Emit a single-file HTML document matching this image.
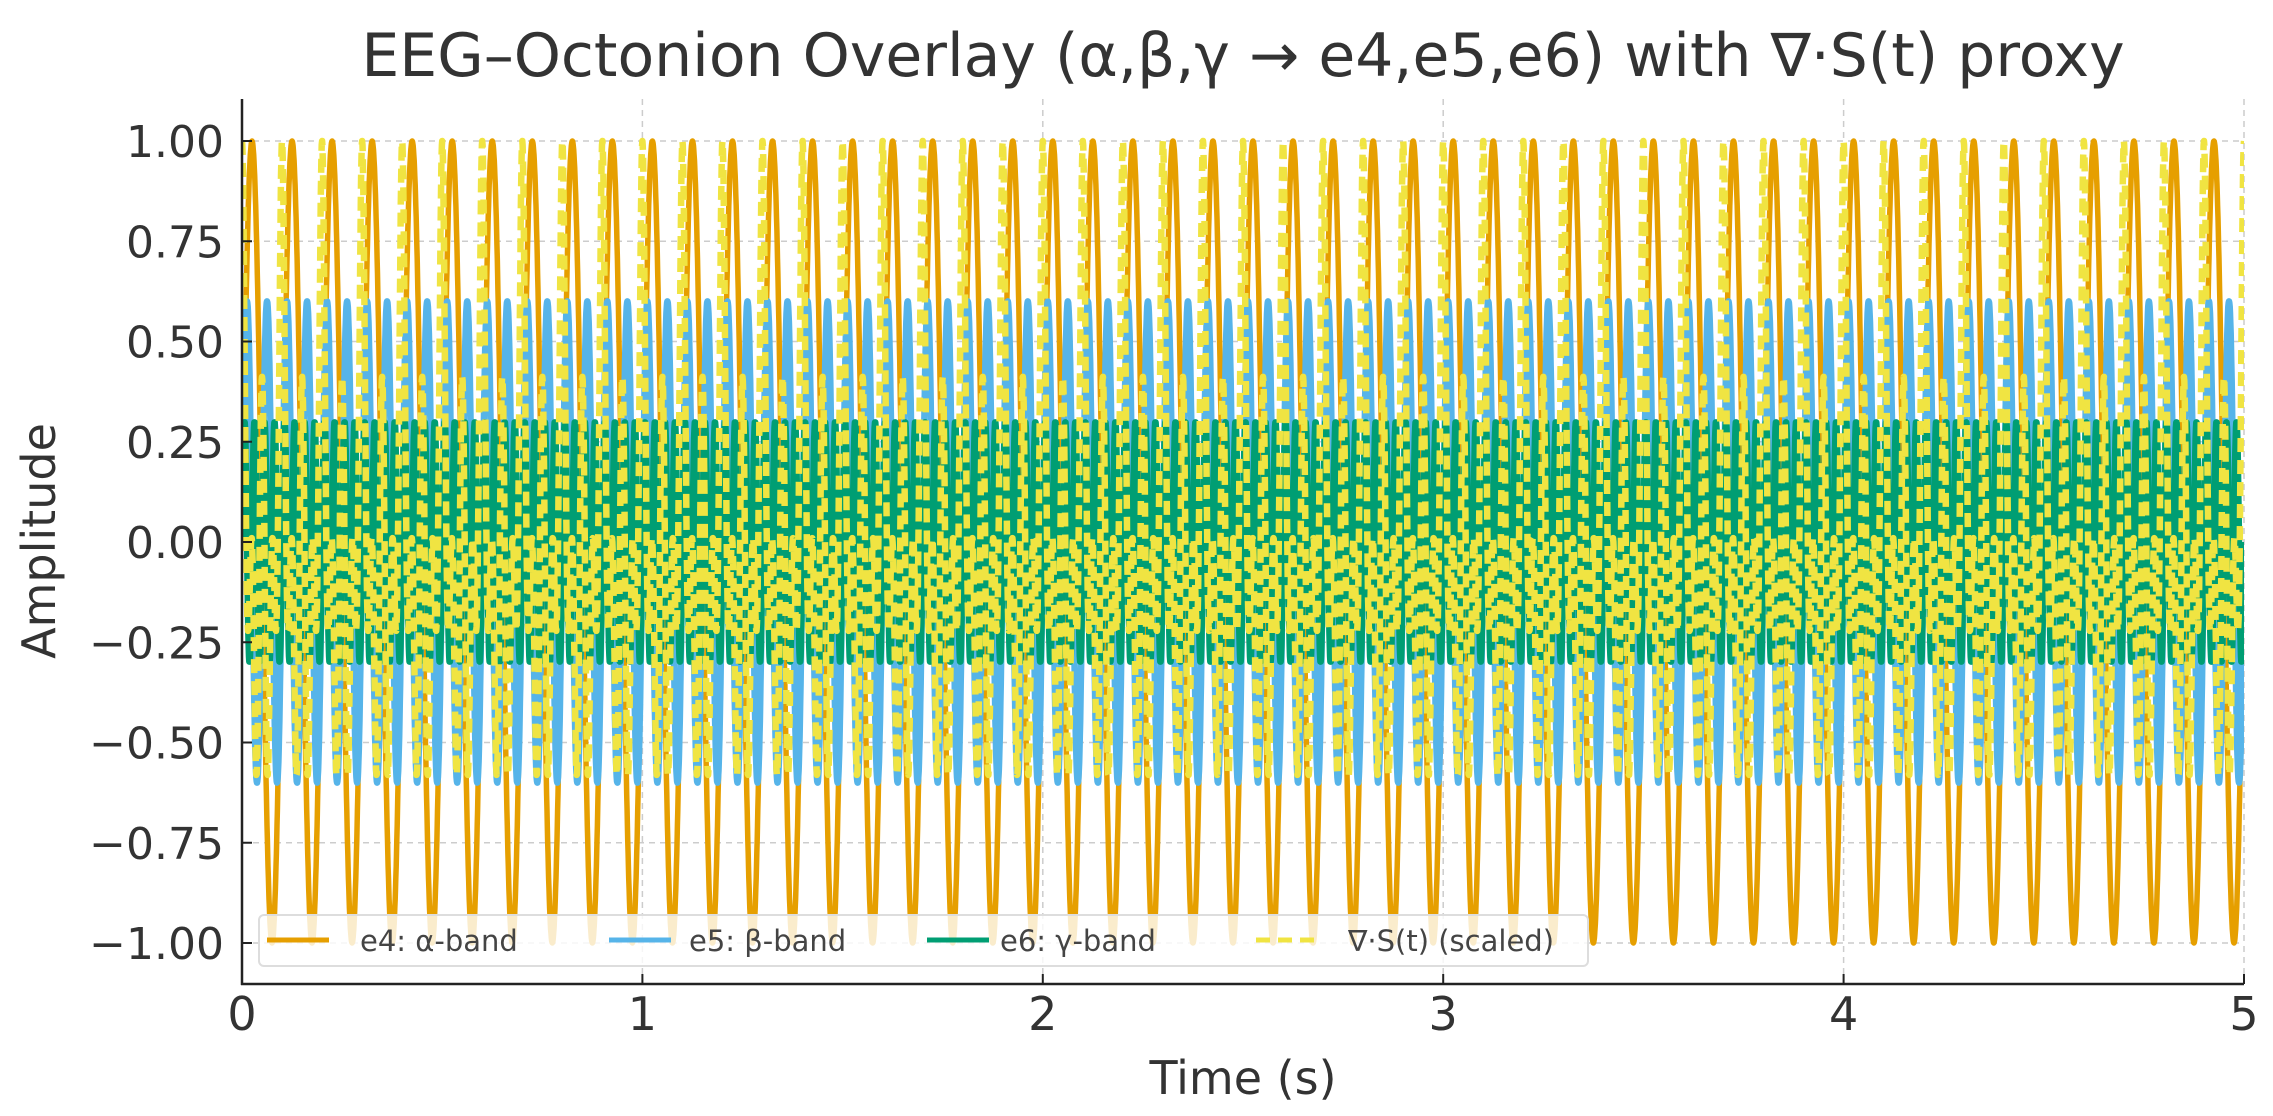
<!DOCTYPE html>
<html><head><meta charset="utf-8">
<style>
html,body{margin:0;padding:0;background:#fff;}
svg{display:block;font-family:"DejaVu Sans","Liberation Sans",sans-serif;}
</style></head>
<body>
<svg id="chart" width="2273" height="1116" viewBox="0 0 2273 1116" xmlns="http://www.w3.org/2000/svg">
<rect width="2273" height="1116" fill="#fff"/>
<text x="1243" y="76" font-size="60" fill="#333" text-anchor="middle">EEG–Octonion Overlay (α,β,γ → e4,e5,e6) with ∇·S(t) proxy</text>
<g id="grid"></g>
<clipPath id="clip"><rect x="242" y="99" width="2002" height="885"/></clipPath>
<g id="series" clip-path="url(#clip)"></g>
<g id="axes"></g>
<text x="1243" y="1094" font-size="46" fill="#333" text-anchor="middle">Time (s)</text>
<text x="0" y="0" font-size="46" fill="#333" text-anchor="middle" transform="translate(55,541) rotate(-90)">Amplitude</text>
<g id="legend"></g>
</svg>
<script>
// data
const seriesNames = ["e4: α-band","e5: β-band","e6: γ-band","∇·S(t) (scaled)"];
const bandFreqs = [10, 20, 40];      // Hz
const bandAmps = [1.0, 0.6, 0.3];
const xTicks = [0,1,2,3,4,5];
const yTicks = [1.00,0.75,0.50,0.25,0.00,-0.25,-0.50,-0.75,-1.00];
const yTickLabels = ["1.00","0.75","0.50","0.25","0.00","−0.25","−0.50","−0.75","−1.00"];
const tMax = 5;

const NS="http://www.w3.org/2000/svg";
const X0=242, X1=2244, YTOP=99, YBOT=984;
const xs = t => X0 + (t/5)*(X1-X0);
const ys = v => 141 + (1-v)/2*(943-141);
function mk(tag, attrs, parent){const e=document.createElementNS(NS,tag);for(const k in attrs)e.setAttribute(k,attrs[k]);parent.appendChild(e);return e;}

const grid=document.getElementById('grid');
xTicks.forEach(t=>{const l=mk('line',{x1:xs(t),x2:xs(t),y1:YTOP,y2:YBOT,stroke:'#ccc','stroke-width':1.5,'stroke-dasharray':'6,5'},grid);

});
yTicks.forEach(v=>{const l=mk('line',{x1:X0,x2:X1,y1:ys(v),y2:ys(v),stroke:'#ccc','stroke-width':1.5,'stroke-dasharray':'6,5'},grid);

});

const N=6000, T=[];
for(let i=0;i<=N;i++)T.push(tMax*i/N);
const bands = bandFreqs.map((f,k)=>T.map(t=>bandAmps[k]*Math.sin(2*Math.PI*f*t)));
const deriv = T.map(t=>bandFreqs.reduce((s,f,k)=>s+bandAmps[k]*2*Math.PI*f*Math.cos(2*Math.PI*f*t),0));
const dmax = Math.max(...deriv.map(Math.abs));
const divS = deriv.map(v=>v/dmax);
const colors=['#E69F00','#56B4E9','#009E73','#F0E442'];
const widths=[5.5,6.5,6.5,6.5];
const names=['alpha-line','beta-line','gamma-line','divergence-line'];
const all=[...bands, divS];
const sg=document.getElementById('series');
all.forEach((arr,k)=>{
  let d='';arr.forEach((v,i)=>{d+=(i?'L':'M')+xs(T[i]).toFixed(1)+','+ys(v).toFixed(1);});
  const p=mk('path',{d:d,fill:'none',stroke:colors[k],'stroke-width':widths[k],'stroke-linejoin':'round'},sg);
  if(k===3)p.setAttribute('stroke-dasharray','14,8');
  
  
});

const ax=document.getElementById('axes');
let a=mk('line',{x1:X0,x2:X0,y1:YTOP,y2:YBOT+1,stroke:'#222','stroke-width':2.5},ax);


a=mk('line',{x1:X0-1,x2:X1,y1:YBOT,y2:YBOT,stroke:'#222','stroke-width':2.5},ax);


xTicks.forEach(t=>{
  mk('line',{x1:xs(t),x2:xs(t),y1:YBOT,y2:YBOT-10,stroke:'#222','stroke-width':2},ax);
  const tx=mk('text',{x:xs(t),y:1030,'font-size':46,fill:'#333','text-anchor':'middle'},ax);
  tx.textContent=String(t);
  
  
});
yTicks.forEach((v,i)=>{
  mk('line',{x1:X0,x2:X0+10,y1:ys(v),y2:ys(v),stroke:'#222','stroke-width':2},ax);
  const tx=mk('text',{x:224,y:ys(v)+16,'font-size':44,fill:'#333','text-anchor':'end'},ax);
  tx.textContent=yTickLabels[i];
  
  
});

const lg=document.getElementById('legend');
let box=mk('rect',{x:259,y:915,width:1329,height:51,rx:5,fill:'rgba(255,255,255,0.8)',stroke:'#ddd','stroke-width':2},lg);


const lx=[267,609,927,1256];
const tx0=[360,689,1000,1348];
seriesNames.forEach((n,k)=>{
  const g=mk('g',{},lg);
  
  
  const ln=mk('line',{x1:lx[k],x2:lx[k]+62,y1:940,y2:940,stroke:colors[k],'stroke-width':5},g);
  if(k===3)ln.setAttribute('stroke-dasharray','14,8');
  const tx=mk('text',{x:tx0[k],y:951,'font-size':29,fill:'#444'},g);
  tx.textContent=n;
});
</script>
</body></html>
